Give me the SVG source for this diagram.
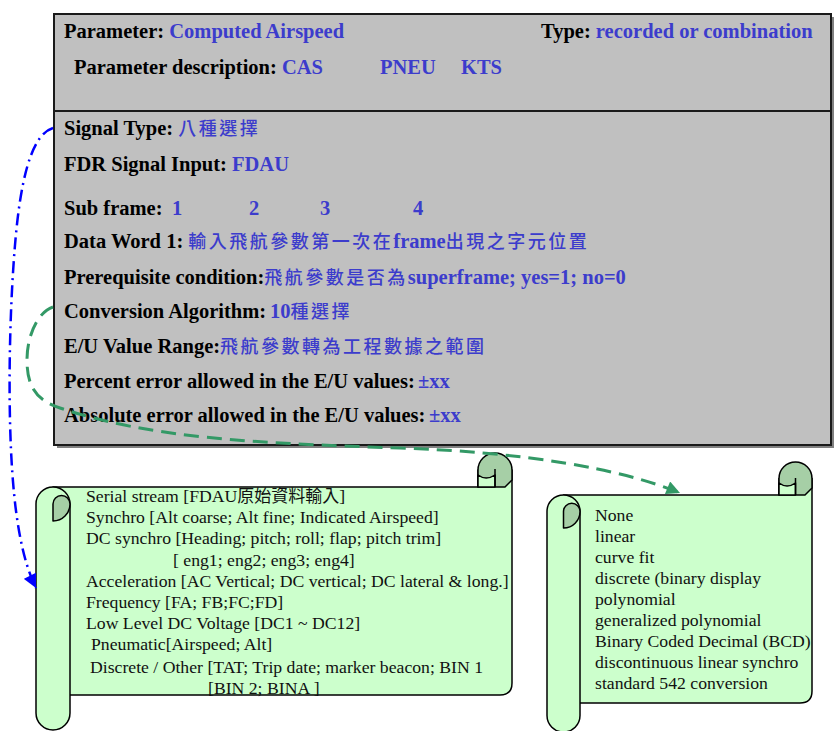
<svg xmlns="http://www.w3.org/2000/svg" width="834" height="731" viewBox="0 0 834 731">
<defs>
<style>
.lbl{font-family:"Liberation Serif","Times New Roman",serif;font-weight:bold;font-size:20.5px;fill:#000}
.val{fill:#3c3ccc}
.cjk{font-family:"Noto Sans CJK TC","Noto Sans CJK SC",sans-serif;font-weight:500;font-size:18px;letter-spacing:2.5px;fill:#3c3ccc}
.st{font-family:"Liberation Serif","Times New Roman",serif;font-size:17.7px;fill:#111}
.stc{font-family:"Noto Sans CJK TC","Noto Sans CJK SC",sans-serif;font-size:17px}
.light{fill:#ccffcc;stroke:#000;stroke-width:1.5;stroke-linejoin:round}
.dark{fill:#a6cfa6;stroke:#000;stroke-width:1.5;stroke-linejoin:round}
.ln{fill:none;stroke:#000;stroke-width:1.5}
.blue{fill:none;stroke:#0000ff;stroke-width:2.5;stroke-dasharray:12 5 2 5}
.green{fill:none;stroke:#339966;stroke-width:3;stroke-dasharray:15 8}
</style>
<marker id="ab" viewBox="0 0 10 10" refX="10" refY="5" markerWidth="6" markerHeight="5.5" orient="auto" markerUnits="strokeWidth">
<path d="M0,0 L10,5 L0,10 Z" fill="#0000ff"/>
</marker>
<marker id="ag" viewBox="0 0 10 10" refX="10" refY="5" markerWidth="5.5" markerHeight="4.5" orient="auto" markerUnits="strokeWidth">
<path d="M0,0 L10,5 L0,10 Z" fill="#339966"/>
</marker>
</defs>

<g id="param-box">
<rect x="57" y="17" width="777" height="431" fill="#808080"/>
<rect x="54" y="14" width="777" height="431" fill="#c0c0c0" stroke="#1a1a1a" stroke-width="2"/>
<line x1="54" y1="111" x2="831" y2="111" stroke="#1a1a1a" stroke-width="2"/>
<text class="lbl" x="64" y="38">Parameter: <tspan class="val">Computed Airspeed</tspan></text>
<text class="lbl" x="541" y="38">Type: <tspan class="val">recorded or combination</tspan></text>
<text class="lbl" x="74" y="74">Parameter description: <tspan class="val">CAS</tspan><tspan class="val" x="380">PNEU</tspan><tspan class="val" x="461">KTS</tspan></text>
<text class="lbl" x="64" y="135">Signal Type: <tspan class="cjk">八種選擇</tspan></text>
<text class="lbl" x="64" y="171">FDR Signal Input: <tspan class="val">FDAU</tspan></text>
<text class="lbl" x="64" y="215">Sub frame: <tspan class="val" x="172">1</tspan><tspan class="val" x="249">2</tspan><tspan class="val" x="320">3</tspan><tspan class="val" x="413">4</tspan></text>
<text class="lbl" x="64" y="248">Data Word 1: <tspan class="cjk">輸入飛航參數第一次在</tspan><tspan class="val">frame</tspan><tspan class="cjk">出現之字元位置</tspan></text>
<text class="lbl" x="64" y="284">Prerequisite condition:<tspan class="cjk">飛航參數是否為</tspan><tspan class="val">superframe; yes=1; no=0</tspan></text>
<text class="lbl" x="64" y="318">Conversion Algorithm:<tspan class="val" x="270">10</tspan><tspan class="cjk">種選擇</tspan></text>
<text class="lbl" x="64" y="353">E/U Value Range:<tspan class="cjk">飛航參數轉為工程數據之範圍</tspan></text>
<text class="lbl" x="64" y="388">Percent error allowed in the E/U values:<tspan class="val" x="418">±xx</tspan></text>
<text class="lbl" x="64" y="422">Absolute error allowed in the E/U values:<tspan class="val" x="429">±xx</tspan></text>
</g>

<g id="signal-scroll">
<path class="light" d="M53,487 H478 V470 H512 V683 Q512,695 500,695 H53 Z"/>
<path class="light" d="M36,504 A17,17 0 0 1 70,504 V713 A17,17 0 0 1 36,713 Z"/>
<path class="dark" d="M53,504 A8.5,8.5 0 0 1 70,504 A17,17 0 0 1 53,521 Z"/>
<path class="dark" d="M478,470 A17,17 0 0 1 512,470 V480 L505,487 H478 Z"/>
<path class="light" d="M478,487 V475 Q486,481 495,475 V487 Z"/>
<path class="ln" d="M495,469 V487"/>
<text class="st" x="86" y="502">Serial stream [FDAU<tspan class="stc">原始資料輸入</tspan>]</text>
<text class="st" x="86" y="523">Synchro [Alt coarse; Alt fine; Indicated Airspeed]</text>
<text class="st" x="86" y="544">DC synchro [Heading; pitch; roll; flap; pitch trim]</text>
<text class="st" x="173" y="566">[ eng1; eng2; eng3; eng4]</text>
<text class="st" x="86" y="587">Acceleration [AC Vertical; DC vertical; DC lateral &amp; long.]</text>
<text class="st" x="86" y="608">Frequency  [FA; FB;FC;FD]</text>
<text class="st" x="86" y="629">Low Level DC Voltage [DC1 ~ DC12]</text>
<text class="st" x="91" y="650">Pneumatic[Airspeed; Alt]</text>
<text class="st" x="90" y="673">Discrete / Other [TAT; Trip date; marker beacon; BIN 1</text>
<text class="st" x="208" y="694">[BIN 2; BINA ]</text>
</g>

<g id="conversion-scroll">
<path class="light" d="M563.5,495 H779 V478.5 H812 V691 Q812,703 800,703 H563.5 Z"/>
<path class="light" d="M547,511.5 A16.5,16.5 0 0 1 580,511.5 V715.5 A16.5,16.5 0 0 1 547,715.5 Z"/>
<path class="dark" d="M563.5,511.5 A8.25,8.25 0 0 1 580,511.5 A16.5,16.5 0 0 1 563.5,528 Z"/>
<path class="dark" d="M779,478.5 A16.5,16.5 0 0 1 812,478.5 V488 L805,495 H779 Z"/>
<path class="light" d="M779,495 V483 Q787,489 795.5,483 V495 Z"/>
<path class="ln" d="M795.5,478 V495"/>
<text class="st" x="595" y="521">None</text>
<text class="st" x="595" y="542">linear</text>
<text class="st" x="595" y="563">curve fit</text>
<text class="st" x="595" y="584">discrete (binary display</text>
<text class="st" x="595" y="605">polynomial</text>
<text class="st" x="595" y="626">generalized polynomial</text>
<text class="st" x="595" y="647">Binary Coded Decimal (BCD)</text>
<text class="st" x="595" y="668">discontinuous linear synchro</text>
<text class="st" x="595" y="689">standard 542 conversion</text>
</g>

<g id="connectors">
<path class="blue" d="M53,128 C30,135 20,185 15,245 C10,305 8,385 11,450 C14,515 22,560 36,588" marker-end="url(#ab)"/>
<path class="green" d="M53,307 C38,312 27,335 27,360 C27,385 35,400 60,408 C150,438 250,443 400,448 C520,452 620,468 680,493" marker-end="url(#ag)"/>
</g>
</svg>
